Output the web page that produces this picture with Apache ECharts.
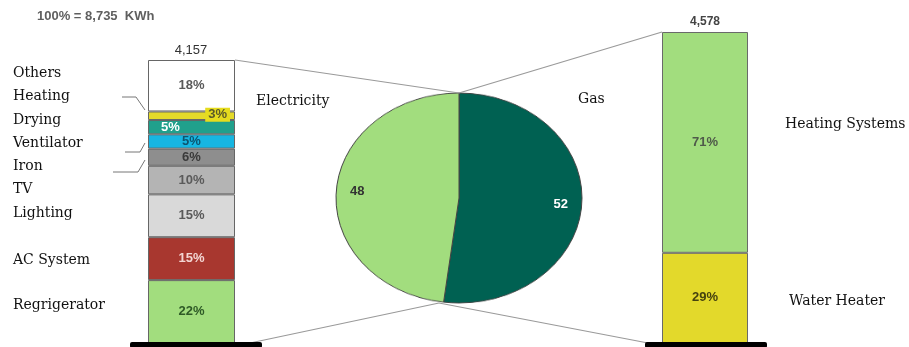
<!DOCTYPE html>
<html><head><meta charset="utf-8">
<script src="https://cdn.jsdelivr.net/npm/echarts@6/dist/echarts.min.js"></script>
<style>
html,body{margin:0;padding:0;background:#fff;}
#wrap{position:relative;width:909px;height:347px;overflow:hidden;}
#pie{position:absolute;left:329px;top:68px;width:260px;height:260px;transform:scaleY(0.8537);transform-origin:50% 50%;z-index:1;}
#main{position:absolute;left:0;top:0;width:909px;height:347px;z-index:2;}
</style></head>
<body><div id="wrap"><div id="pie"></div><div id="main"></div></div>
<script>
// ---- data ----
const headerText = '100% = 8,735  KWh';
const elecTotal = '4,157';
const gasTotal = '4,578';
// electricity uses, bottom to top
const elecNames = ['Regrigerator','AC System','Lighting','TV','Iron','Ventilator','Drying','Heating','Others'];
const elecValues = [22, 15, 15, 10, 6, 5, 5, 3, 18];
// gas uses, bottom to top
const gasNames = ['Water Heater','Heating Systems'];
const gasValues = [29, 71];
// split of total energy
const pieNames = ['Gas','Electricity'];
const pieValues = [52, 48];

// ---- styles ----
const elecColors = ['#a2dd7e','#a8372f','#d9d9d9','#b4b4b4','#8e8e8e','#17b6e2','#20a08c','#e4da2a','#ffffff'];
const elecLabelColors = ['#2e5a26','#f3d6d3','#5a5a5a','#5a5a5a','#3a3a3a','#0d5570','#ffffff','#5a5a2a','#5a5a5a'];
const elecLabelPos = ['inside','inside','inside','inside','inside','inside','insideLeft','insideRight','inside'];
const gasColors = ['#e3d92b','#a2dd7e'];
const gasLabelColors = ['#45420f','#4f5a4a'];
const pieColors = ['#006152','#a2dd7e'];
const pieLabelColors = ['#ffffff','#333333'];
const serif = 'DejaVu Serif';
const sans = 'Liberation Sans';
const sideLabelY = [305,260,213,189,166,143,120,96,73];

const sum = a => a.reduce((s,v)=>s+v,0);

const labelBase = {show:true, fontFamily:sans, fontSize:13, fontWeight:'bold'};

const elecSeries = elecValues.map((v,i)=>{
  const lab = Object.assign({}, labelBase, {formatter: v+'%', color: elecLabelColors[i], position: elecLabelPos[i]});
  if (elecLabelPos[i]==='insideLeft') { lab.distance=13; }
  if (elecLabelPos[i]==='insideRight') { lab.distance=5; lab.backgroundColor='#e6dc1e'; lab.padding=[1,3,0,3]; lab.offset=[0,-1]; }
  return {type:'bar', name:elecNames[i], stack:'elec', xAxisIndex:0, yAxisIndex:0, barWidth:'100%',
    data:[v], itemStyle:{color:elecColors[i], borderColor:'#666', borderWidth:1}, label:lab, silent:true};
});
const gasSeries = gasValues.map((v,i)=>({type:'bar', name:gasNames[i], stack:'gas', xAxisIndex:1, yAxisIndex:1, barWidth:'100%',
  data:[v], itemStyle:{color:gasColors[i], borderColor:'#6a6a6a', borderWidth:1},
  label:Object.assign({}, labelBase, {formatter:v+'%', color:gasLabelColors[i], position:'inside'}), silent:true}));

const pieData = pieNames.map((n,i)=>({name:n, value:pieValues[i]}));

const txt = (x,y,text,font,opts)=>Object.assign({type:'text', x, y, style:Object.assign({text, font, fill:'#111', textVerticalAlign:'middle'}, opts||{})});
const line = (pts,color,w)=>({type:'polyline', shape:{points:pts}, style:{stroke:color, lineWidth:w, fill:null}, z:1});

const graphics = [
  txt(37,16,headerText,'bold 13px '+sans,{fill:'#5f5f5f'}),
  txt(191,50,elecTotal,'13px '+sans,{fill:'#333', textAlign:'center'}),
  txt(705,22,gasTotal,'bold 12px '+sans,{fill:'#444', textAlign:'center'}),
  txt(256,101,pieNames[1],'14px '+serif),
  txt(578,99,pieNames[0],'14px '+serif),
  txt(785,124,gasNames[1],'14px '+serif),
  txt(789,301,gasNames[0],'14px '+serif),
  // zoom lines
  line([[235,60],[459,93]],'#9a9a9a',1.2),
  line([[250,343],[439,303]],'#9a9a9a',1.2),
  line([[459,93],[662,32]],'#9a9a9a',1.2),
  line([[439,303],[648,343]],'#9a9a9a',1.2),
  // bracket connectors
  line([[122,97],[136,97],[145,110]],'#777',1),
  line([[125,152],[140,152],[145,143]],'#777',1),
  line([[113,172],[138,172],[145,160]],'#777',1),
  // bases
  {type:'rect', shape:{x:130,y:342,width:132,height:6,r:2}, style:{fill:'#000'}, z:5},
  {type:'rect', shape:{x:645,y:342,width:122,height:6,r:2}, style:{fill:'#000'}, z:5}
];
elecNames.forEach((n,i)=>graphics.push(txt(13,sideLabelY[i],n,'14px '+serif)));

const main = echarts.init(document.getElementById('main'), null, {renderer:'canvas'});
main.setOption({
  backgroundColor:'transparent',
  animation:false,
  grid:[{left:148,width:87,top:60,bottom:4},{left:662,width:86,top:32,bottom:4}],
  xAxis:[{type:'category',data:['Electricity'],gridIndex:0,show:false},{type:'category',data:['Gas'],gridIndex:1,show:false}],
  yAxis:[{type:'value',gridIndex:0,min:0,max:sum(elecValues),show:false},{type:'value',gridIndex:1,min:0,max:sum(gasValues),show:false}],
  series:[...elecSeries, ...gasSeries,
    {type:'pie', center:[459,198], radius:[80,118], startAngle:90, clockwise:true, silent:true,
     data:pieData.map((d,i)=>Object.assign({}, d, {itemStyle:{color:'rgba(0,0,0,0)'}, label:{color:pieLabelColors[i]}})),
     label:{show:true, position:'inside', formatter:'{c}', fontFamily:sans, fontSize:13, fontWeight:'bold'}, labelLine:{show:false}}
  ],
  graphic:graphics
});

const pie = echarts.init(document.getElementById('pie'), null, {renderer:'canvas'});
pie.setOption({
  animation:false,
  series:[{type:'pie', center:['50%','50%'], radius:123, startAngle:90, clockwise:true, silent:true,
    data:pieData.map((d,i)=>Object.assign({}, d, {itemStyle:{color:pieColors[i]}})),
    itemStyle:{borderColor:'#444', borderWidth:1}, label:{show:false}, labelLine:{show:false}}]
});
</script></body></html>
